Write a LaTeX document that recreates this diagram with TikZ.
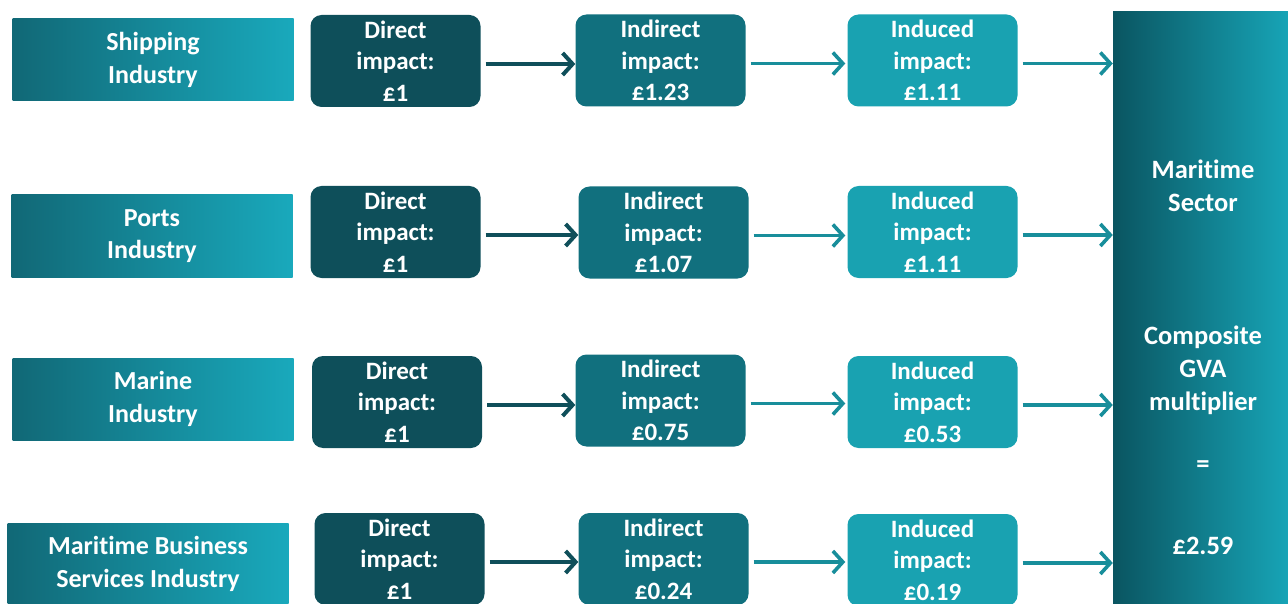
\documentclass[tikz,border=0pt]{standalone}
\usepackage{fontspec}
\setmainfont{Carlito}[Ligatures={NoCommon,NoRare,NoContextual}]
\usetikzlibrary{arrows.meta}
\definecolor{cdirect}{HTML}{0E4F5A}
\definecolor{cindirect}{HTML}{11707E}
\definecolor{cinduced}{HTML}{19A2B1}
\definecolor{cgradL}{HTML}{116876}
\definecolor{cgradR}{HTML}{19A9BC}
\definecolor{csecL}{HTML}{0A5561}
\definecolor{csecR}{HTML}{17A4B6}
\definecolor{carrowA}{HTML}{0F4F5A}
\definecolor{carrowB}{HTML}{188E9B}
\tikzset{
  txt/.style={text=white, font=\fontsize{25}{31.5}\selectfont\bfseries, align=center, inner sep=0pt},
  bigtxt/.style={txt, font=\fontsize{26}{32.5}\selectfont\bfseries},
  sectxt/.style={txt, font=\fontsize{26.5}{33}\selectfont\bfseries},
  indbox/.style={bigtxt, left color=cgradL, right color=cgradR, minimum width=281pt, minimum height=82pt},
  impbox/.style={txt, rounded corners=11pt, minimum width=170pt, minimum height=92pt},
  dirbox/.style={impbox, fill=cdirect},
  indirbox/.style={impbox, fill=cindirect},
  indubox/.style={impbox, fill=cinduced},
  secbox/.style={txt, left color=csecL, right color=csecR, minimum width=175pt, minimum height=594pt},
  arrA/.style={draw=carrowA, line width=4pt, -{Straight Barb[length=10pt,width=22pt,line width=4pt]}},
  arrB/.style={draw=carrowB, line width=3.6pt, -{Straight Barb[length=10pt,width=22pt,line width=3.6pt]}},
}
\begin{document}
\begin{tikzpicture}[x=1pt,y=-1pt]
\useasboundingbox (0,0) rectangle (1288,604);
\clip (0,0) rectangle (1288,604);
% sector
\node[secbox] (sec) at (1200.5,309) {};
\node[sectxt] (sect1) at (1203,186) {Maritime\\Sector};
\node[sectxt] (sect2) at (1203,370) {Composite\\GVA\\multiplier};
\node[sectxt] (sect3) at (1203,467) {=};
\node[sectxt] (sect4) at (1203,546) {£2.59};
% row 1
\node[indbox] (i1) at (153,60) {Shipping\\Industry};
\node[dirbox] (d1) at (395.5,61) {Direct\\impact:\\£1};
\node[indirbox] (n1) at (660.5,60.5) {Indirect\\impact:\\£1.23};
\node[indubox] (u1) at (932.5,60.5) {Induced\\impact:\\£1.11};
% row 2
\node[indbox] (i2) at (152,236) {Ports\\Industry};
\node[dirbox] (d2) at (395.5,232) {Direct\\impact:\\£1};
\node[indirbox] (n2) at (663.5,232.5) {Indirect\\impact:\\£1.07};
\node[indubox] (u2) at (932.5,232) {Induced\\impact:\\£1.11};
% row 3
\node[indbox] (i3) at (153,399) {Marine\\Industry};
\node[dirbox] (d3) at (397,402) {Direct\\impact:\\£1};
\node[indirbox] (n3) at (660.5,400.5) {Indirect\\impact:\\£0.75};
\node[indubox] (u3) at (932.5,402) {Induced\\impact:\\£0.53};
% row 4
\node[indbox] (i4) at (148,564) {Maritime Business\\Services Industry};
\node[dirbox] (d4) at (399.5,559) {Direct\\impact:\\£1};
\node[indirbox] (n4) at (663.5,559) {Indirect\\impact:\\£0.24};
\node[indubox] (u4) at (932.5,560) {Induced\\impact:\\£0.19};
% arrows
\foreach \r in {1,2,3,4}{
  \draw[arrA, shorten <=5pt] ([yshift=-3pt]d\r.east) -- ([yshift=-3pt]d\r.east -| n\r.west);
  \draw[arrB, shorten <=5pt, shorten >=2pt] ([yshift=-3pt]n\r.east) -- ([yshift=-3pt]n\r.east -| u\r.west);
  \draw[arrB, shorten <=5pt] ([yshift=-3pt]u\r.east) -- ([yshift=-3pt]u\r.east -| sec.west);
}
\end{tikzpicture}
\end{document}
